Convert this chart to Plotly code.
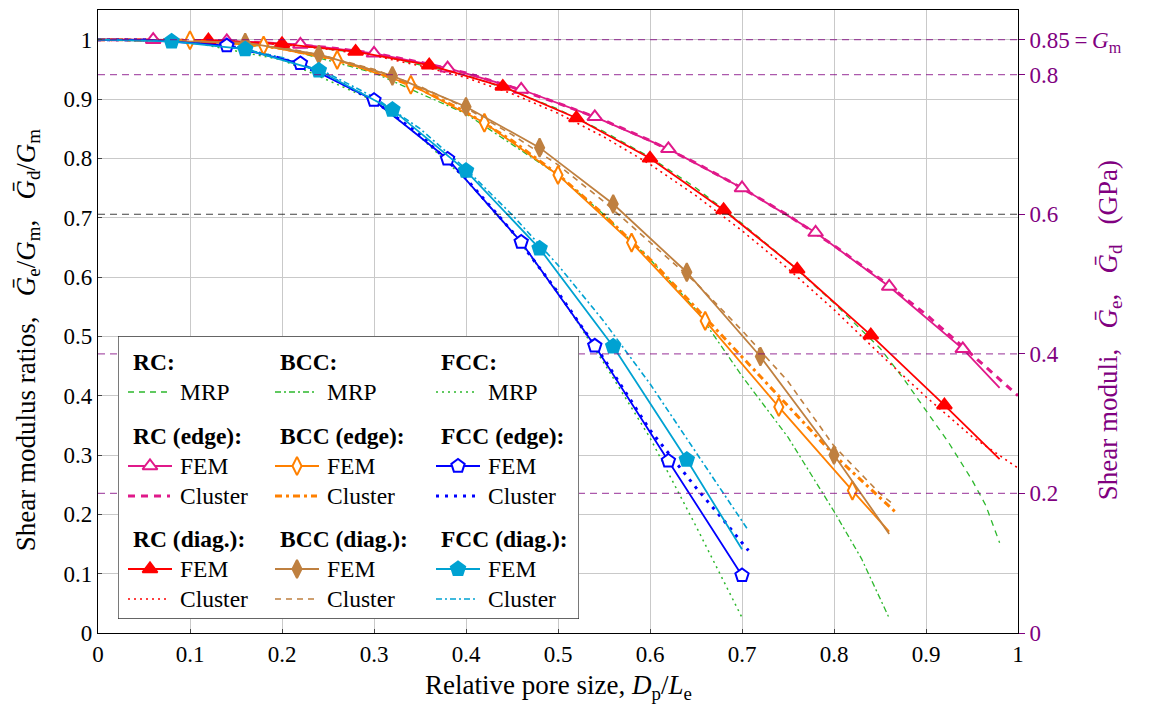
import plotly.graph_objects as go

# ---------------- data ----------------
# FEM results (polylines through computed points)
rc_edge_fem_x = [0.0, 0.06, 0.14, 0.22, 0.30, 0.38, 0.46, 0.54, 0.62, 0.70, 0.78, 0.86, 0.94, 0.98]
rc_edge_fem_y = [1.0, 1.0, 0.998, 0.992, 0.977, 0.952, 0.916, 0.870, 0.816, 0.750, 0.675, 0.584, 0.479, 0.413]
rc_diag_fem_x = [0.0, 0.12, 0.20, 0.28, 0.36, 0.44, 0.52, 0.60, 0.68, 0.76, 0.84, 0.92, 0.98]
rc_diag_fem_y = [1.0, 0.999, 0.993, 0.980, 0.957, 0.921, 0.868, 0.800, 0.713, 0.613, 0.502, 0.384, 0.293]
bcc_edge_fem_x = [0.0, 0.10, 0.18, 0.26, 0.34, 0.42, 0.50, 0.58, 0.66, 0.74, 0.82, 0.86]
bcc_edge_fem_y = [1.0, 0.999, 0.990, 0.966, 0.924, 0.860, 0.772, 0.658, 0.526, 0.381, 0.240, 0.171]
bcc_diag_fem_x = [0.0, 0.16, 0.24, 0.32, 0.40, 0.48, 0.56, 0.64, 0.72, 0.80, 0.86]
bcc_diag_fem_y = [1.0, 0.995, 0.975, 0.939, 0.887, 0.818, 0.723, 0.608, 0.466, 0.300, 0.167]
fcc_edge_fem_x = [0.0, 0.06, 0.14, 0.22, 0.30, 0.38, 0.46, 0.54, 0.62, 0.70]
fcc_edge_fem_y = [1.0, 0.999, 0.990, 0.960, 0.898, 0.799, 0.659, 0.484, 0.290, 0.097]
fcc_diag_fem_x = [0.0, 0.08, 0.16, 0.24, 0.32, 0.40, 0.48, 0.56, 0.64, 0.70]
fcc_diag_fem_y = [1.0, 0.997, 0.984, 0.948, 0.882, 0.779, 0.648, 0.483, 0.292, 0.141]

# indices of FEM points that carry a marker
rc_edge_marks = list(range(1, 13))
rc_diag_marks = list(range(1, 12))
bcc_edge_marks = list(range(1, 11))
bcc_diag_marks = list(range(1, 10))
fcc_edge_marks = list(range(2, 10))
fcc_diag_marks = list(range(1, 9))

# Cluster model curves
rc_edge_cl_x = [0.0, 0.05, 0.10, 0.15, 0.20, 0.25, 0.30, 0.35, 0.40, 0.45, 0.50, 0.55, 0.60, 0.65, 0.70, 0.75, 0.80, 0.85, 0.90, 0.95, 1.0]
rc_edge_cl_y = [1.0, 1.0, 0.999, 0.997, 0.993, 0.987, 0.977, 0.962, 0.944, 0.920, 0.893, 0.864, 0.830, 0.792, 0.750, 0.704, 0.653, 0.597, 0.537, 0.469, 0.400]
rc_diag_cl_x = [0.0, 0.05, 0.10, 0.15, 0.20, 0.25, 0.30, 0.35, 0.40, 0.45, 0.50, 0.55, 0.60, 0.65, 0.70, 0.75, 0.80, 0.85, 0.90, 0.95, 1.0]
rc_diag_cl_y = [1.0, 1.0, 0.999, 0.997, 0.992, 0.984, 0.973, 0.956, 0.936, 0.909, 0.876, 0.836, 0.790, 0.737, 0.678, 0.614, 0.545, 0.470, 0.398, 0.331, 0.278]
bcc_edge_cl_x = [0.0, 0.05, 0.10, 0.15, 0.20, 0.25, 0.30, 0.35, 0.40, 0.45, 0.50, 0.55, 0.60, 0.65, 0.70, 0.75, 0.80, 0.85, 0.866]
bcc_edge_cl_y = [1.0, 1.0, 0.999, 0.994, 0.985, 0.969, 0.947, 0.917, 0.878, 0.830, 0.773, 0.705, 0.630, 0.548, 0.465, 0.382, 0.300, 0.228, 0.205]
bcc_diag_cl_x = [0.0, 0.05, 0.10, 0.15, 0.20, 0.25, 0.30, 0.35, 0.40, 0.45, 0.50, 0.55, 0.60, 0.65, 0.70, 0.75, 0.80, 0.85, 0.866]
bcc_diag_cl_y = [1.0, 1.0, 0.999, 0.996, 0.987, 0.971, 0.950, 0.921, 0.885, 0.840, 0.789, 0.727, 0.659, 0.590, 0.510, 0.424, 0.315, 0.235, 0.215]
fcc_edge_cl_x = [0.0, 0.05, 0.10, 0.15, 0.20, 0.25, 0.30, 0.35, 0.40, 0.45, 0.50, 0.55, 0.60, 0.65, 0.68, 0.707]
fcc_edge_cl_y = [1.0, 1.0, 0.996, 0.987, 0.968, 0.939, 0.897, 0.840, 0.766, 0.677, 0.574, 0.462, 0.342, 0.245, 0.190, 0.139]
fcc_diag_cl_x = [0.0, 0.05, 0.10, 0.15, 0.20, 0.25, 0.30, 0.35, 0.40, 0.45, 0.50, 0.55, 0.60, 0.65, 0.706]
fcc_diag_cl_y = [1.0, 1.0, 0.996, 0.987, 0.970, 0.943, 0.903, 0.850, 0.782, 0.705, 0.620, 0.525, 0.420, 0.305, 0.175]

# MRP curves
rc_mrp_x = [0.0, 0.10, 0.20, 0.30, 0.40, 0.45, 0.50, 0.55, 0.60, 0.65, 0.70, 0.75, 0.80, 0.85, 0.875, 0.90, 0.925, 0.95, 0.965, 0.98]
rc_mrp_y = [1.0, 0.999, 0.993, 0.975, 0.940, 0.914, 0.883, 0.845, 0.802, 0.750, 0.690, 0.626, 0.556, 0.480, 0.430, 0.375, 0.320, 0.258, 0.215, 0.152]
bcc_mrp_x = [0.0, 0.10, 0.20, 0.30, 0.40, 0.50, 0.55, 0.60, 0.65, 0.70, 0.75, 0.80, 0.83, 0.86]
bcc_mrp_y = [1.0, 0.999, 0.986, 0.944, 0.875, 0.772, 0.705, 0.630, 0.545, 0.433, 0.330, 0.205, 0.125, 0.025]
fcc_mrp_x = [0.0, 0.10, 0.20, 0.30, 0.35, 0.40, 0.45, 0.50, 0.55, 0.60, 0.65, 0.70]
fcc_mrp_y = [1.0, 0.996, 0.966, 0.897, 0.836, 0.764, 0.676, 0.574, 0.455, 0.329, 0.180, 0.026]

# Reference moduli (GPa) on the right axis
gm = 0.85
ref_moduli = [0.85, 0.8, 0.4, 0.2]
ref_moduli_black = [0.6]
right_ticks = [0.0, 0.2, 0.4, 0.6, 0.8, 0.85]
right_ticktext = ["0", "0.2", "0.4", "0.6", "0.8", "0.85\u2009=\u2009<i>G</i><sub>m</sub>"]

# ---------------- styles ----------------
PURPLE = "#800080"
MAG = "#E0198A"
RED = "#FF0000"
ORANGE = "#FF8000"
BROWN = "#BF8040"
BLUE = "#0000FF"
CYAN = "#00A2D2"
GREEN = "#2DB82D"

DASH = "6px,5px"
DASHDOT = "6px,3px,2px,3px"
DOT = "2px,4px"

TICK_FS = 23
TITLE_FS = 27
LEG_FS = 23.5

styles = {
    "rc_mrp": dict(color=GREEN, width=1.3, dash=DASH),
    "bcc_mrp": dict(color=GREEN, width=1.3, dash=DASHDOT),
    "fcc_mrp": dict(color=GREEN, width=1.5, dash=DOT),
    "rc_edge_cl": dict(color=MAG, width=3, dash="7px,6px"),
    "rc_diag_cl": dict(color=RED, width=1.6, dash=DOT),
    "bcc_edge_cl": dict(color=ORANGE, width=3, dash="7px,4px,3px,4px"),
    "bcc_diag_cl": dict(color=BROWN, width=1.6, dash=DASH),
    "fcc_edge_cl": dict(color=BLUE, width=3, dash="3px,6px"),
    "fcc_diag_cl": dict(color=CYAN, width=1.6, dash=DASHDOT),
}
fem_styles = {
    "rc_edge": dict(color=MAG, symbol="triangle-up", fill="white", size=13),
    "rc_diag": dict(color=RED, symbol="triangle-up", fill=RED, size=13),
    "bcc_edge": dict(color=ORANGE, symbol="diamond-tall", fill="white", size=13),
    "bcc_diag": dict(color=BROWN, symbol="diamond-tall", fill=BROWN, size=13),
    "fcc_edge": dict(color=BLUE, symbol="pentagon", fill="white", size=14),
    "fcc_diag": dict(color=CYAN, symbol="pentagon", fill=CYAN, size=15),
}

fig = go.Figure()

# reference horizontal lines (right axis, GPa)
for v in ref_moduli:
    fig.add_trace(go.Scatter(x=[0, 1], y=[v, v], yaxis="y2", mode="lines",
                             line=dict(color="rgba(128,0,128,0.65)", width=1.3, dash="7px,5px"),
                             showlegend=False, hoverinfo="skip"))
for v in ref_moduli_black:
    fig.add_trace(go.Scatter(x=[0, 1], y=[v, v], yaxis="y2", mode="lines",
                             line=dict(color="rgba(0,0,0,0.75)", width=1.1, dash="7px,5px"),
                             showlegend=False, hoverinfo="skip"))


def line(x, y, st):
    fig.add_trace(go.Scatter(x=x, y=y, mode="lines", line=st, showlegend=False, hoverinfo="skip"))


def fem(x, y, idx, st):
    fig.add_trace(go.Scatter(x=x, y=y, mode="lines", line=dict(color=st["color"], width=1.8),
                             showlegend=False, hoverinfo="skip"))
    fig.add_trace(go.Scatter(x=[x[i] for i in idx], y=[y[i] for i in idx], mode="markers",
                             marker=dict(symbol=st["symbol"], size=st["size"], color=st["fill"],
                                         line=dict(color=st["color"], width=2)),
                             showlegend=False, hoverinfo="skip", cliponaxis=False))


line(rc_mrp_x, rc_mrp_y, styles["rc_mrp"])
line(bcc_mrp_x, bcc_mrp_y, styles["bcc_mrp"])
line(fcc_mrp_x, fcc_mrp_y, styles["fcc_mrp"])

line(rc_edge_cl_x, rc_edge_cl_y, styles["rc_edge_cl"])
line(rc_diag_cl_x, rc_diag_cl_y, styles["rc_diag_cl"])
line(bcc_edge_cl_x, bcc_edge_cl_y, styles["bcc_edge_cl"])
line(bcc_diag_cl_x, bcc_diag_cl_y, styles["bcc_diag_cl"])
line(fcc_edge_cl_x, fcc_edge_cl_y, styles["fcc_edge_cl"])
line(fcc_diag_cl_x, fcc_diag_cl_y, styles["fcc_diag_cl"])

fem(rc_edge_fem_x, rc_edge_fem_y, rc_edge_marks, fem_styles["rc_edge"])
fem(rc_diag_fem_x, rc_diag_fem_y, rc_diag_marks, fem_styles["rc_diag"])
fem(bcc_edge_fem_x, bcc_edge_fem_y, bcc_edge_marks, fem_styles["bcc_edge"])
fem(bcc_diag_fem_x, bcc_diag_fem_y, bcc_diag_marks, fem_styles["bcc_diag"])
fem(fcc_edge_fem_x, fcc_edge_fem_y, fcc_edge_marks, fem_styles["fcc_edge"])
fem(fcc_diag_fem_x, fcc_diag_fem_y, fcc_diag_marks, fem_styles["fcc_diag"])

# ---------------- custom legend (own pixel-like axes) ----------------
L, R, T, B = 118, 579, 336, 619
PL, PR, PT, PB = 98, 1018, 10, 633
cols = [("RC", 128, "rc"), ("BCC", 275, "bcc"), ("FCC", 436, "fcc")]
annotations = []
for name, c, key in cols:
    rows = [
        ("head", 362, "<b>%s:</b>" % name),
        ("line", 392, key + "_mrp", "MRP"),
        ("head", 436, "<b>%s (edge):</b>" % name),
        ("fem", 466, key + "_edge", "FEM"),
        ("line", 496, key + "_edge_cl", "Cluster"),
        ("head", 539, "<b>%s (diag.):</b>" % name),
        ("fem", 569, key + "_diag", "FEM"),
        ("line", 599, key + "_diag_cl", "Cluster"),
    ]
    for r in rows:
        if r[0] == "head":
            annotations.append(dict(x=c + 3, y=r[1], xref="x3", yref="y3", text=r[2], showarrow=False,
                                    xanchor="left", yanchor="middle", font=dict(size=LEG_FS)))
            continue
        if r[0] == "line":
            fig.add_trace(go.Scatter(x=[c, c + 42], y=[r[1], r[1]], xaxis="x3", yaxis="y3", mode="lines",
                                     line=styles[r[2]], showlegend=False, hoverinfo="skip"))
        else:
            st = fem_styles[r[2]]
            fig.add_trace(go.Scatter(x=[c, c + 44], y=[r[1], r[1]], xaxis="x3", yaxis="y3", mode="lines",
                                     line=dict(color=st["color"], width=1.8), showlegend=False, hoverinfo="skip"))
            fig.add_trace(go.Scatter(x=[c + 22], y=[r[1]], xaxis="x3", yaxis="y3", mode="markers",
                                     marker=dict(symbol=st["symbol"], size=st["size"], color=st["fill"],
                                                 line=dict(color=st["color"], width=2)),
                                     showlegend=False, hoverinfo="skip"))
        annotations.append(dict(x=c + 50, y=r[1], xref="x3", yref="y3", text=r[3], showarrow=False,
                                xanchor="left", yanchor="middle", font=dict(size=LEG_FS)))

# axis titles
SP = "\u2002 "
annotations.append(dict(
    x=(1110 - PL) / (PR - PL), y=0.486, xref="paper", yref="paper", textangle=-90, showarrow=False,
    text="Shear moduli," + SP + "<i>Ḡ</i><sub>e</sub>," + SP + "<i>Ḡ</i><sub>d</sub>" + SP + "(GPa)",
    font=dict(size=TITLE_FS, color=PURPLE), xanchor="center", yanchor="middle"))
annotations.append(dict(
    x=(28 - PL) / (PR - PL), y=0.47, xref="paper", yref="paper", textangle=-90, showarrow=False,
    text="Shear modulus ratios," + SP + "<i>Ḡ</i><sub>e</sub>/<i>G</i><sub>m</sub>,"
         + SP + "<i>Ḡ</i><sub>d</sub>/<i>G</i><sub>m</sub>",
    font=dict(size=TITLE_FS), xanchor="center", yanchor="middle"))
annotations.append(dict(
    x=0.5, y=(PB - 687) / (PB - PT), xref="paper", yref="paper", showarrow=False,
    text="Relative pore size, <i>D</i><sub>p</sub>/<i>L</i><sub>e</sub>",
    font=dict(size=TITLE_FS), xanchor="center", yanchor="middle"))

shapes = [dict(type="rect", xref="x3", yref="y3", x0=L, x1=R, y0=T, y1=B, layer="below",
               line=dict(color="#333333", width=1.3), fillcolor="white")]

axis_common = dict(showgrid=True, gridcolor="#C9C9C9", gridwidth=1, showline=True, linecolor="black",
                   linewidth=1.3, mirror=True, ticks="inside", ticklen=4, tickcolor="#444444",
                   zeroline=False, tickfont=dict(size=TICK_FS))

fig.update_layout(
    width=1150, height=706,
    margin=dict(l=PL, r=1150 - PR, t=PT, b=706 - PB),
    plot_bgcolor="white", paper_bgcolor="white",
    font=dict(family="Liberation Serif", size=TICK_FS, color="black"),
    xaxis=dict(range=[0, 1], dtick=0.1, tick0=0, **axis_common),
    yaxis=dict(range=[0, 1.05], dtick=0.1, tick0=0, **axis_common),
    yaxis2=dict(overlaying="y", side="right", range=[0, gm * 1.05], tickvals=right_ticks,
                ticktext=right_ticktext, tickfont=dict(size=TICK_FS, color=PURPLE), showgrid=False,
                ticks="outside", ticklen=6, tickcolor=PURPLE, zeroline=False, showline=False),
    xaxis3=dict(domain=[(L - PL) / (PR - PL), (R - PL) / (PR - PL)], range=[L, R], visible=False,
                anchor="y3"),
    yaxis3=dict(domain=[(PB - B) / (PB - PT), (PB - T) / (PB - PT)], range=[B, T], visible=False,
                anchor="x3"),
    annotations=annotations,
    shapes=shapes,
)

fig.write_html("out.html")
